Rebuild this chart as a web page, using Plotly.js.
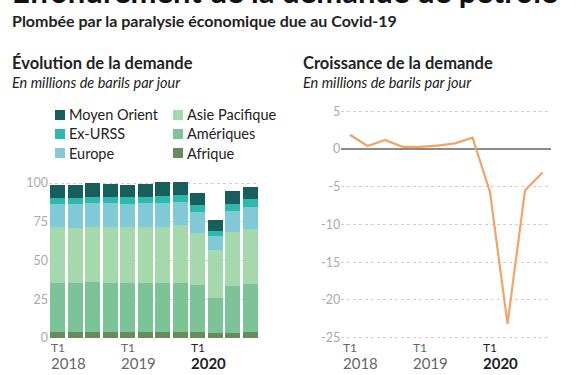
<!DOCTYPE html>
<html>
<head>
<meta charset="utf-8">
<script src="https://cdn.plot.ly/plotly-3.0.1.min.js"></script>
<style>html,body{margin:0;padding:0;background:#fff;}#chart{width:580px;height:375px;}</style>
</head>
<body>
<div id="chart"></div>
<script>
// ---- Data ----
var quarters = ["T1 2018","T2 2018","T3 2018","T4 2018","T1 2019","T2 2019","T3 2019","T4 2019","T1 2020","T2 2020","T3 2020","T4 2020"];
var afrique     = [3.7,3.7,3.7,3.7,3.7,3.7,3.7,3.7,3.7,3.0,3.5,3.7];
var ameriques   = [32.0,32.0,32.2,32.0,32.0,32.0,32.0,32.0,30.5,23.0,30.3,30.9];
var asiePacifique = [35.7,35.5,35.5,35.7,35.7,35.7,36.1,37.2,33.3,30.8,34.4,35.5];
var europe      = [14.8,15.0,15.5,15.5,15.1,15.5,15.1,14.6,14.0,9.0,14.0,14.6];
var exUrss      = [4.3,4.3,4.3,4.3,4.3,4.3,4.9,4.8,4.3,3.4,4.3,5.0];
var moyenOrient = [8.2,8.2,8.6,8.2,8.1,8.2,9.1,8.6,7.5,6.9,8.6,7.9];
var croissance  = [1.9,0.4,1.2,0.3,0.3,0.45,0.75,1.5,-5.7,-23.2,-5.5,-3.1];

var regionNames = ["Afrique","Amériques","Asie Pacifique","Europe","Ex-URSS","Moyen Orient"];
var regionValues = [afrique, ameriques, asiePacifique, europe, exUrss, moyenOrient];
var regionColors = ["#6b8a5c","#7cc497","#a6d8ae","#7fcad6","#2db8ad","#15605a"];

var barTicks = [0,25,50,75,100];
var lineTicks = [-25,-20,-15,-10,-5,0,5];
var lineTickText = ["-25","-20","-15","-10","-5","0","5"];
var xTickIdx = [0,4,8];
var xTickTop = ["T1","T1","T1"];
var xTickYear = ["2018","2019","2020"];

// legend layout: [column, row] per region
var legendPos = {"Moyen Orient":[0,0],"Ex-URSS":[0,1],"Europe":[0,2],"Asie Pacifique":[1,0],"Amériques":[1,1],"Afrique":[1,2]};

var FONT = "Lato, 'Source Sans Pro', 'Noto Sans', sans-serif";
var W = 580, H = 375;
function px(x){return x/W;}
function py(y){return (H-y)/H;}

var traces = [];
for (var i=0;i<regionNames.length;i++){
  traces.push({type:'bar', x:quarters, y:regionValues[i], name:regionNames[i],
    marker:{color:regionColors[i], line:{width:0}}, xaxis:'x', yaxis:'y', showlegend:false, hoverinfo:'skip'});
}
traces.push({type:'scatter', mode:'lines', x:quarters, y:croissance, xaxis:'x2', yaxis:'y2',
  line:{color:'#f2a466', width:2.2}, showlegend:false, hoverinfo:'skip'});

var ann = [];
var shapes = [];
ann.push({text:"<b>Effondrement de la demande de pétrole</b>", xref:'paper', yref:'paper', x:px(10), y:py(12), xanchor:'left', yanchor:'bottom', showarrow:false, font:{family:FONT, size:31, color:'#111'}});
ann.push({text:"<b>Plombée par la paralysie économique due au Covid-19</b>", xref:'paper', yref:'paper', x:px(10), y:py(9), xanchor:'left', yanchor:'top', showarrow:false, font:{family:FONT, size:16, color:'#222'}});
ann.push({text:"<b>Évolution de la demande</b>", xref:'paper', yref:'paper', x:px(10), y:py(51), xanchor:'left', yanchor:'top', showarrow:false, font:{family:FONT, size:16.5, color:'#222'}});
ann.push({text:"<i>En millions de barils par jour</i>", xref:'paper', yref:'paper', x:px(10), y:py(72), xanchor:'left', yanchor:'top', showarrow:false, font:{family:FONT, size:14.5, color:'#222'}});
ann.push({text:"<b>Croissance de la demande</b>", xref:'paper', yref:'paper', x:px(301), y:py(51), xanchor:'left', yanchor:'top', showarrow:false, font:{family:FONT, size:16.5, color:'#222'}});
ann.push({text:"<i>En millions de barils par jour</i>", xref:'paper', yref:'paper', x:px(301), y:py(72), xanchor:'left', yanchor:'top', showarrow:false, font:{family:FONT, size:14.5, color:'#222'}});

// legend
var colX = [55,173], rowY = [115,134,153];
for (var i=0;i<regionNames.length;i++){
  var p = legendPos[regionNames[i]];
  var cx = colX[p[0]], cy = rowY[p[1]];
  shapes.push({type:'rect', xref:'paper', yref:'paper', x0:px(cx), x1:px(cx+10), y0:py(cy+5), y1:py(cy-5), fillcolor:regionColors[i], line:{width:0}});
  ann.push({text:regionNames[i], xref:'paper', yref:'paper', x:px(cx+12), y:py(cy), xanchor:'left', yanchor:'middle', showarrow:false, font:{family:FONT, size:14.5, color:'#222'}});
}

// x tick labels for both panels
['x','x2'].forEach(function(ax){
  for (var k=0;k<xTickIdx.length;k++){
    var last = (k===xTickIdx.length-1);
    var col = last ? '#222' : '#666';
    var yr = last ? '<b>'+xTickYear[k]+'</b>' : xTickYear[k];
    ann.push({text:"<span style='font-size:12px'>"+xTickTop[k]+"</span><br><span style='font-size:15px'>"+yr+"</span>", xref:ax, yref:'paper', x:xTickIdx[k]-0.45, y:py(339), xanchor:'left', yanchor:'top', align:'left', borderpad:0, showarrow:false, font:{family:FONT, size:13, color:col}});
  }
});

var layout = {
  width:W, height:H, margin:{l:0,r:0,t:0,b:0}, paper_bgcolor:'#fff', plot_bgcolor:'rgba(0,0,0,0)',
  barmode:'stack', bargap:0.14, showlegend:false,
  font:{family:FONT},
  xaxis:{domain:[px(49),px(259)], range:[-0.5,11.5], type:'category', showticklabels:false, showgrid:false, zeroline:false, showline:false, ticks:'', fixedrange:true},
  yaxis:{domain:[py(338),py(176.8)], range:[0,104], tickvals:barTicks, showgrid:true, gridcolor:'#cfcfcf', griddash:'dot', gridwidth:1, zeroline:false, showline:false, ticks:'', tickfont:{family:FONT, size:12.5, color:'#aaa'}, fixedrange:true},
  xaxis2:{domain:[px(341.25),px(551.25)], range:[-0.5,11.5], type:'category', anchor:'y2', showticklabels:false, showgrid:false, zeroline:false, showline:false, ticks:'', fixedrange:true},
  yaxis2:{domain:[py(341.3),py(103.8)], range:[-25.5,6], anchor:'x2', tickvals:lineTicks, ticktext:lineTickText, showgrid:true, gridcolor:'#cfcfcf', griddash:'dot', gridwidth:1, zeroline:true, zerolinecolor:'#8a8a8a', zerolinewidth:1.2, showline:false, ticks:'', tickfont:{family:FONT, size:12.5, color:'#aaa'}, fixedrange:true},
  annotations:ann, shapes:shapes
};
Plotly.newPlot('chart', traces, layout, {staticPlot:true, displayModeBar:false});
</script>
</body>
</html>
